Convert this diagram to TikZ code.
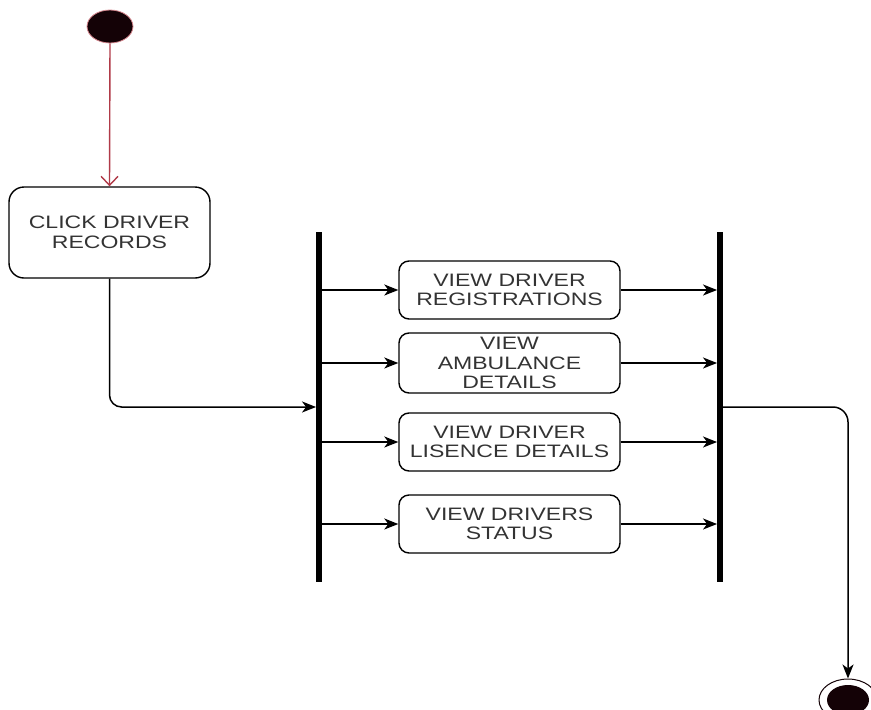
\documentclass[tikz,border=0pt]{standalone}
\usepackage{fontspec}
\setmainfont[FakeStretch=1.28]{Liberation Sans}
\usetikzlibrary{arrows.meta,shapes.geometric}
\definecolor{txt}{HTML}{333333}
\definecolor{startred}{HTML}{B03A48}
\definecolor{nodefill}{HTML}{140206}
\definecolor{halo}{HTML}{D88890}
\tikzset{
  act/.style={draw=black, line width=1.4pt, rounded corners=10pt, minimum width=221pt, minimum height=58pt,
    align=center, text=txt, inner sep=0pt, font=\fontsize{18}{19.5}\selectfont},
  bigact/.style={act, rounded corners=15pt, minimum width=201pt, minimum height=91pt},
  forkbar/.style={fill=black, minimum width=5.5pt, minimum height=350pt, inner sep=0pt},
  flow/.style={line width=1.5pt, -{Stealth[length=14pt,width=11pt,inset=4pt]}},
  startflow/.style={line width=1.4pt, draw=startred, -{Straight Barb[length=9pt,width=17pt]}},
}
\begin{document}
\begin{tikzpicture}[x=1pt,y=-1pt]
\clip (0,0) rectangle (871,710);
\useasboundingbox (0,0) rectangle (871,710);
% initial node
\node[ellipse, fill=nodefill, draw=halo, line width=0.8pt, minimum width=46pt, minimum height=33pt, inner sep=0pt] (start) at (110,26.5) {};
% click driver records
\node[bigact] (click) at (109.5,232.5) {CLICK DRIVER\\RECORDS};
% bars
\node[forkbar] (fork) at (319,407) {};
\node[forkbar] (join) at (720,407) {};
% activities
\node[act] (reg) at (509.5,290) {VIEW DRIVER\\REGISTRATIONS};
\node[act, minimum height=60pt] (amb) at (509.5,363) {VIEW\\AMBULANCE\\DETAILS};
\node[act] (lic) at (509.5,442) {VIEW DRIVER\\LISENCE DETAILS};
\node[act] (stat) at (509.5,524) {VIEW DRIVERS\\STATUS};
% final node
\node[ellipse, draw=nodefill, line width=1pt, fill=white, minimum width=58pt, minimum height=42pt, inner sep=0pt] (end) at (848,700) {};
\node[ellipse, fill=nodefill, minimum width=42pt, minimum height=30pt, inner sep=0pt] (endin) at (848,700) {};
% connectors
\draw[startflow] (start.south) -- (click.north);
\draw[flow, rounded corners=12pt] (click.south) |- (fork.west |- 0,407);
\foreach \b in {reg,amb,lic,stat}{
  \draw[flow] (fork.east |- \b.west) -- (\b.west);
  \draw[flow] (\b.east) -- (join.west |- \b.east);
}
\draw[flow, rounded corners=15pt] (join.east |- 0,407) -| (end.north);
\end{tikzpicture}
\end{document}
